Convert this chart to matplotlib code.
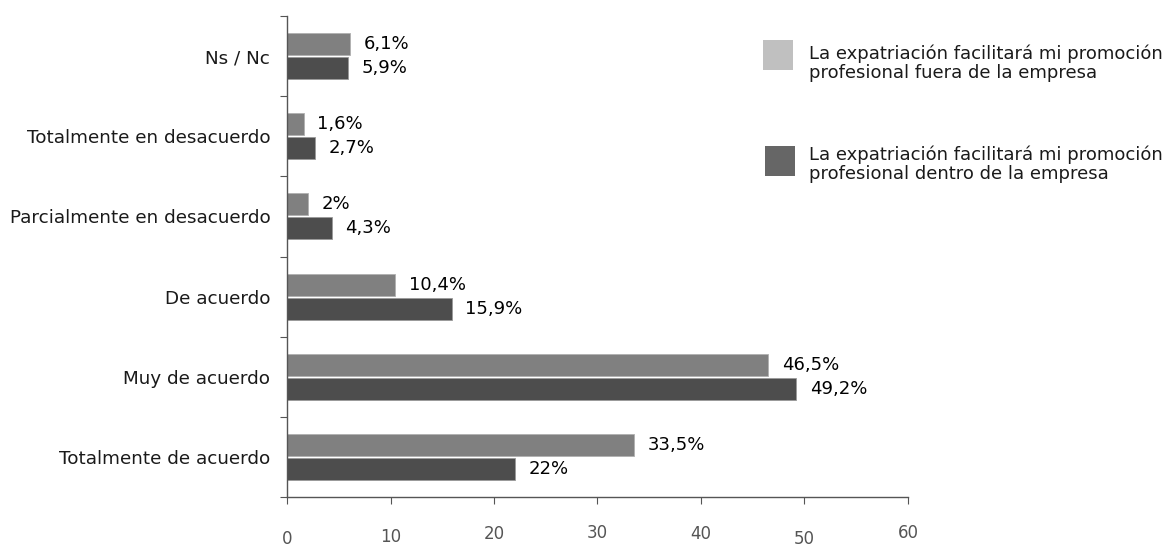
import numpy as np
import matplotlib.pyplot as plt
from matplotlib.patches import Rectangle

categories = ["Ns / Nc", "Totalmente en desacuerdo", "Parcialmente en desacuerdo",
              "De acuerdo", "Muy de acuerdo", "Totalmente de acuerdo"]
fuera = [6.1, 1.6, 2.0, 10.4, 46.5, 33.5]
dentro = [5.9, 2.7, 4.3, 15.9, 49.2, 22.0]
fuera_labels = ["6,1%", "1,6%", "2%", "10,4%", "46,5%", "33,5%"]
dentro_labels = ["5,9%", "2,7%", "4,3%", "15,9%", "49,2%", "22%"]
legend_labels = ["La expatriación facilitará mi promoción\nprofesional fuera de la empresa",
                 "La expatriación facilitará mi promoción\nprofesional dentro de la empresa"]
x_ticks = [0, 10, 20, 30, 40, 50, 60]

c_light = "#808080"
c_dark = "#4d4d4d"

fig = plt.figure(figsize=(11.73, 5.46), dpi=100)
ax = fig.add_axes([0.2447, 0.0897, 0.774 - 0.2447, 0.9707 - 0.0897])

y = np.arange(len(categories))
h = 0.275
off = 0.15
ax.barh(y - off, fuera, height=h, color=c_light, edgecolor="#b0b0b0", linewidth=0.6)
ax.barh(y + off, dentro, height=h, color=c_dark, edgecolor="#9a9a9a", linewidth=0.6)

for yi, v, t in zip(y, fuera, fuera_labels):
    ax.annotate(t, (v, yi - off), xytext=(10, 0), textcoords="offset points",
                va="center", ha="left", fontsize=13, color="black")
for yi, v, t in zip(y, dentro, dentro_labels):
    ax.annotate(t, (v, yi + off), xytext=(10, 0), textcoords="offset points",
                va="center", ha="left", fontsize=13, color="black")

ax.set_xlim(0, 60)
ax.set_ylim(len(categories) - 0.5, -0.5)

# category boundaries get the tick marks, labels sit on the centres
ax.set_yticks(np.arange(len(categories) + 1) - 0.5)
ax.set_yticklabels([])
ax.set_yticks(y, minor=True)
ax.set_yticklabels(categories, minor=True, fontsize=13.2, color="#1a1a1a")
ax.tick_params(axis="y", which="major", length=5, color="#555555", direction="out")
ax.tick_params(axis="y", which="minor", length=0, pad=12)

ax.set_xticks(x_ticks)
ax.set_xticklabels([str(t) for t in x_ticks], fontsize=12, color="#555555")
ax.tick_params(axis="x", length=5, color="#555555", direction="out")
# the original staggers the x labels vertically
pads = [18.5, 17, 15.5, 14.5, 15.5, 18.5, 14.5]
for tk, p in zip(ax.xaxis.get_major_ticks(), pads):
    tk.set_pad(p)

for s in ["top", "right"]:
    ax.spines[s].set_visible(False)
for s in ["left", "bottom"]:
    ax.spines[s].set_color("#555555")
    ax.spines[s].set_linewidth(1)

# legend drawn by hand in figure pixels
W, H = 1173, 546
for (sx, sy, ty), col, lab in zip([(763, 40, 63), (765, 146, 164)], ["#c0c0c0", "#666666"], legend_labels):
    fig.patches.append(Rectangle((sx / W, 1 - (sy + 30) / H), 30 / W, 30 / H,
                                 transform=fig.transFigure, facecolor=col, edgecolor="none"))
    fig.text(809 / W, 1 - ty / H, lab, ha="left", va="center", fontsize=13,
             color="#1a1a1a", linespacing=1.05)

fig.savefig("out.png", dpi=100, facecolor="white")
